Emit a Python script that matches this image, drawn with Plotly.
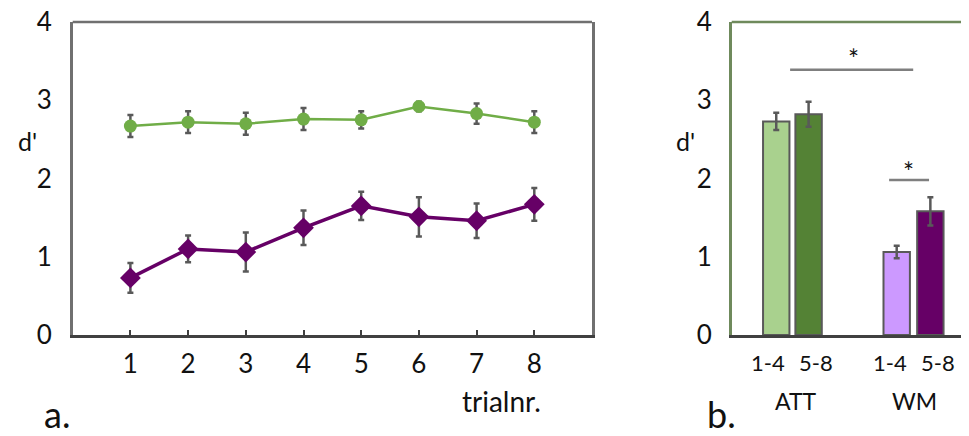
import plotly.graph_objects as go

# ---------------- data ----------------
trials = [1, 2, 3, 4, 5, 6, 7, 8]
att_dprime = [2.67, 2.72, 2.70, 2.76, 2.75, 2.92, 2.83, 2.72]
att_err = [0.14, 0.14, 0.14, 0.14, 0.11, 0.06, 0.13, 0.14]
wm_dprime = [0.73, 1.10, 1.06, 1.37, 1.65, 1.51, 1.46, 1.67]
wm_err = [0.19, 0.17, 0.25, 0.22, 0.18, 0.25, 0.22, 0.21]

bar_labels = ["ATT 1-4", "ATT 5-8", "WM 1-4", "WM 5-8"]
bar_values = [2.73, 2.82, 1.06, 1.58]
bar_err = [0.11, 0.16, 0.08, 0.18]
bar_pos = [1.35, 2.33, 5.0, 6.02]
bar_colors = ["#a9d18e", "#548235", "#cc99ff", "#660066"]
sub_labels = ["1-4", "5-8", "1-4", "5-8"]
sub_label_pos = [1.10, 2.55, 4.80, 6.25]
group_labels = ["ATT", "WM"]
group_label_pos = [1.95, 5.55]
y_ticks = [0, 1, 2, 3, 4]

FONT = "Lato"
W, H = 969, 436
OFF = 8  # page body offset of the rendered figure
ERR = "#595959"


def px_x(p):
    return (p - OFF) / W


def px_y(p):
    return (H - (p - OFF)) / H


fig = go.Figure()

# panel a
fig.add_trace(go.Scatter(
    x=trials, y=att_dprime, mode="lines+markers",
    line=dict(color="#70ad47", width=2.5),
    marker=dict(symbol="circle", size=13, color="#70ad47"),
    error_y=dict(type="data", array=att_err, color=ERR, thickness=2.5, width=3),
    xaxis="x", yaxis="y", showlegend=False))
fig.add_trace(go.Scatter(
    x=trials, y=wm_dprime, mode="lines+markers",
    line=dict(color="#660066", width=3.5),
    marker=dict(symbol="diamond", size=16, color="#660066"),
    error_y=dict(type="data", array=wm_err, color=ERR, thickness=2.5, width=3),
    xaxis="x", yaxis="y", showlegend=False))

# panel b
fig.add_trace(go.Bar(
    x=bar_pos, y=bar_values, width=0.8,
    marker=dict(color=bar_colors, line=dict(color="#595959", width=2)),
    error_y=dict(type="data", array=bar_err, color=ERR, thickness=2.5, width=3),
    text=bar_labels, textposition="none", hoverinfo="text+y",
    xaxis="x2", yaxis="y2", showlegend=False))

ydom = [px_y(335), px_y(22)]
b_left = 731.7
b_unit = 33.0
b_right_fig = W + OFF  # right edge of figure on screen

fig.update_layout(
    width=W, height=H,
    margin=dict(l=0, r=0, t=0, b=0, pad=0),
    showlegend=False,
    paper_bgcolor="white", plot_bgcolor="white",
    font=dict(family=FONT, color="#111111"),
    xaxis=dict(domain=[px_x(72.7), px_x(592)], range=[0, 9], automargin=False,
               tickvals=trials, ticktext=[str(t) for t in trials],
               ticks="inside", ticklen=5, tickwidth=1.5, tickcolor="#404040",
               showline=True, linecolor="#404040", linewidth=2.5,
               showgrid=False, zeroline=False, ticklabeloverflow="allow",
               tickfont=dict(size=26, family=FONT), ticklabelstandoff=4),
    yaxis=dict(domain=ydom, range=[0, 4], tickvals=y_ticks, automargin=False,
               showline=True, linecolor="#707070", linewidth=2.5, mirror=True,
               showgrid=False, zeroline=False, ticks="", ticklabeloverflow="allow",
               tickfont=dict(size=26, family=FONT), ticklabelstandoff=13),
    xaxis2=dict(domain=[px_x(b_left), 1.0],
                range=[0, (b_right_fig - b_left) / b_unit],
                anchor="y2", showticklabels=False, ticks="", automargin=False,
                showline=True, linecolor="#404040", linewidth=2.5,
                showgrid=False, zeroline=False),
    yaxis2=dict(domain=ydom, range=[0, 4], tickvals=y_ticks, anchor="x2",
                automargin=False, ticklabeloverflow="allow",
                showline=True, linecolor="#6f8a5c", linewidth=2.5,
                showgrid=False, zeroline=False, ticks="",
                tickfont=dict(size=26, family=FONT), ticklabelstandoff=12),
)

shapes = [
    dict(type="line", xref="paper", yref="paper", x0=px_x(72.7), x1=px_x(592),
         y0=ydom[1], y1=ydom[1], line=dict(color="#707070", width=2.5)),
    dict(type="line", xref="paper", yref="paper", x0=px_x(b_left), x1=1.0,
         y0=ydom[1], y1=ydom[1], line=dict(color="#6f8a5c", width=2.5)),
    dict(type="line", xref="x2", yref="y2", x0=1.77, x1=5.50, y0=3.39, y1=3.39,
         line=dict(color="#7f7f7f", width=2.5)),
    dict(type="line", xref="x2", yref="y2", x0=4.77, x1=5.98, y0=1.98, y1=1.98,
         line=dict(color="#7f7f7f", width=2.5)),
]
fig.update_layout(shapes=shapes)


def txt(x, y, text, size, xref="paper", yref="paper", xanchor="center"):
    return dict(x=x, y=y, xref=xref, yref=yref, text=text, showarrow=False,
                xanchor=xanchor, yanchor="middle", font=dict(size=size, family=FONT))


ann = [
    txt(px_x(27), px_y(141), "d'", 25),
    txt(px_x(685), px_y(141), "d'", 25),
    txt(px_x(502), px_y(401), "trialnr.", 28),
    txt(px_x(57), px_y(414), "a.", 36),
    txt(px_x(721), px_y(414), "b.", 36),
]
for lab, xp in zip(sub_labels, sub_label_pos):
    ann.append(txt(xp, px_y(362), lab, 22, xref="x2"))
for lab, xp in zip(group_labels, group_label_pos):
    ann.append(txt(xp, px_y(401), lab, 23, xref="x2"))
ann.append(txt(3.68, 3.53, "*", 26, xref="x2", yref="y2"))
ann.append(txt(5.35, 2.08, "*", 26, xref="x2", yref="y2"))
fig.update_layout(annotations=ann)

fig.write_html("out.html")
